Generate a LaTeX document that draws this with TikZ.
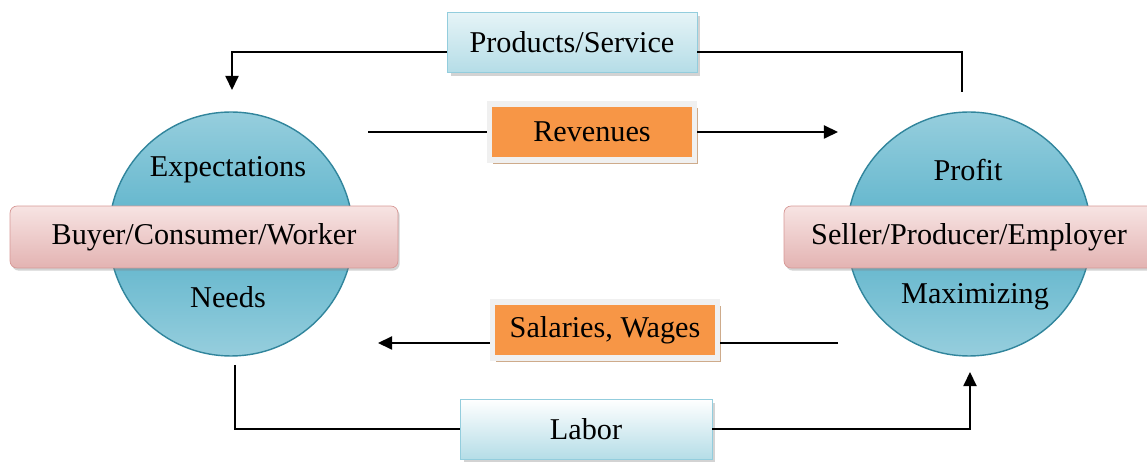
\documentclass[tikz,border=0pt]{standalone}
\usepackage{fontspec}
\setmainfont{Liberation Serif}
\usetikzlibrary{positioning, shadows, arrows.meta}

\definecolor{tealmid}{HTML}{5AB2CA}
\definecolor{teallight}{HTML}{96CEDD}
\definecolor{tealedge}{HTML}{31859C}
\definecolor{pinklight}{HTML}{F7E4E3}
\definecolor{pinkdark}{HTML}{E3B3B2}
\definecolor{pinkedge}{HTML}{D79896}
\definecolor{bluelight}{HTML}{E6F4F7}
\definecolor{bluedark}{HTML}{B5DDE7}
\definecolor{blueedge}{HTML}{93CDDD}
\definecolor{flow}{HTML}{F79646}
\definecolor{flowshadow}{HTML}{C9A27E}

\begin{document}
\begin{tikzpicture}[x=0.02cm, y=-0.02cm, font=\fontsize{17.2}{20}\selectfont]
\tikzset{
  party/.style={circle, minimum size=4.88cm, draw=tealedge, thick,
    top color=teallight, bottom color=teallight, middle color=tealmid},
  rolebox/.style={rectangle, rounded corners=4pt, draw=pinkedge,
    top color=pinklight, bottom color=pinkdark, minimum height=1.24cm,
    drop shadow={shadow xshift=1pt, shadow yshift=-1.5pt, opacity=0.35}},
  goodsbox/.style={rectangle, draw=blueedge, bottom color=bluedark,
    minimum height=1.2cm,
    drop shadow={shadow xshift=2pt, shadow yshift=-2pt, opacity=0.35}},
  moneybox/.style={rectangle, draw=black!6, line width=3pt, fill=flow,
    minimum height=1.12cm,
    drop shadow={shadow xshift=2pt, shadow yshift=-2.5pt, fill=flowshadow, opacity=0.9}},
  link/.style={line width=0.8pt},
  >={Triangle[length=8pt, width=7.5pt]}
}
\useasboundingbox (0,0) rectangle (1147,462);

% the two sides of the market
\node[party] (buyer) at (231,234) {};
\node[party] (seller) at (969,234) {};

\node (expect) at (228,170) {Expectations};
\node (needs) at (228,297) {Needs};
\node (profit) at (968,170) {Profit};
\node (maxim) at (975,297) {Maximizing};

\node[rolebox, minimum width=7.76cm] (buyerbox) at (204,237) {Buyer/Consumer/Worker};
\node[rolebox, minimum width=7.4cm] (sellerbox) at (969,237) {Seller/Producer/Employer};

% what flows between them
\node[goodsbox, top color=bluelight, minimum width=5cm] (products) at (572,42) {Products/Service};
\node[moneybox, minimum width=4.1cm] (revenues) at (592,132) {Revenues};
\node[moneybox, minimum width=4.5cm] (salaries) at (605,330) {Salaries, Wages};
\node[goodsbox, top color=white, minimum width=5.04cm] (labor) at (586,429) {Labor};

\coordinate (pstart) at (962,92);
\coordinate (pend) at (232,90);
\coordinate (rstart) at (368,132);
\coordinate (rend) at (838,132);
\coordinate (sstart) at (838,343);
\coordinate (send) at (378,343);
\coordinate (lstart) at (235,365);
\coordinate (lend) at (970,372);

\draw[link] (pstart) |- ([yshift=-0.2cm]products.east);
\draw[link, ->] ([yshift=-0.2cm]products.west) -| (pend);
\draw[link] (rstart) -- (revenues.west);
\draw[link, ->] (revenues.east) -- (rend);
\draw[link] (sstart) -- (sstart -| salaries.east);
\draw[link, ->] (send -| salaries.west) -- (send);
\draw[link] (lstart) |- (labor.west);
\draw[link, ->] (labor.east) -| (lend);
\end{tikzpicture}
\end{document}
